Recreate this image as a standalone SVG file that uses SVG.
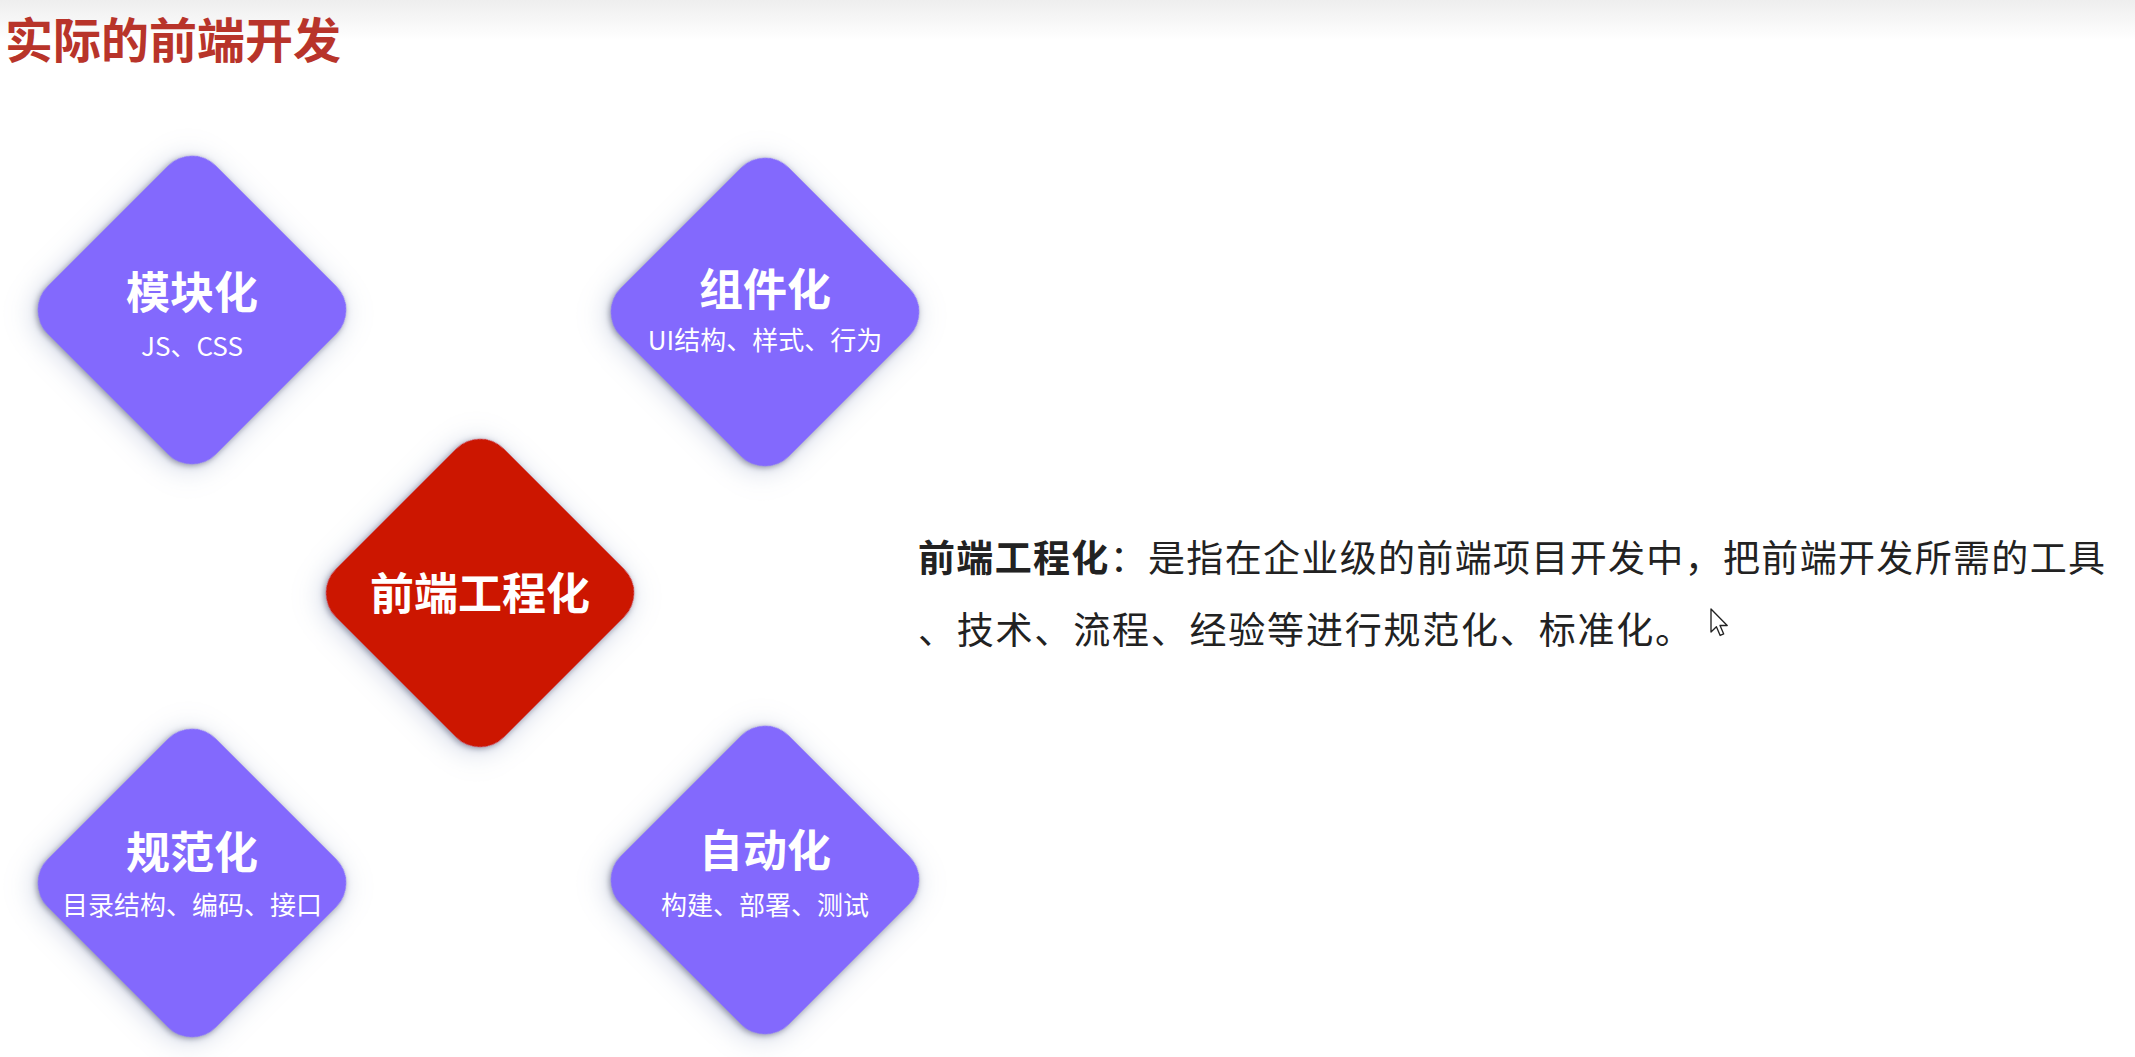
<svg xmlns="http://www.w3.org/2000/svg" width="2135" height="1057" viewBox="0 0 2135 1057">
  <defs>
    <linearGradient id="topband" x1="0" y1="0" x2="0" y2="1">
      <stop offset="0" stop-color="#eeeeee"/>
      <stop offset="1" stop-color="#ffffff"/>
    </linearGradient>
    <filter id="sh" x="-40%" y="-40%" width="180%" height="180%">
      <feGaussianBlur in="SourceAlpha" stdDeviation="3" result="b1"/>
      <feOffset in="b1" dx="0" dy="2" result="o1"/>
      <feFlood flood-color="#66667a" flood-opacity="0.7" result="f1"/>
      <feComposite in="f1" in2="o1" operator="in" result="s1"/>
      <feGaussianBlur in="SourceAlpha" stdDeviation="14" result="b2"/>
      <feOffset in="b2" dx="0" dy="5" result="o2"/>
      <feFlood flood-color="#94a2c4" flood-opacity="0.45" result="f2"/>
      <feComposite in="f2" in2="o2" operator="in" result="s2"/>
      <feMerge>
        <feMergeNode in="s2"/>
        <feMergeNode in="s1"/>
        <feMergeNode in="SourceGraphic"/>
      </feMerge>
    </filter>
    <rect id="dia" x="-119" y="-119" width="238" height="238" rx="34" ry="34"/>
  </defs>
  <style>
    .cjk { font-family: "Noto Sans CJK SC", "Noto Sans", sans-serif; }
    .purple { fill: #8369fd; filter: url(#sh); }
    .red { fill: #cc1600; filter: url(#sh); }
    .ttl { font-family: "Noto Sans CJK SC", "Noto Sans", sans-serif; font-size: 44px; font-weight: bold; fill: #ffffff; text-anchor: middle; }
    .sub { font-family: "Noto Sans CJK SC", "Noto Sans", sans-serif; font-size: 26px; fill: #ffffff; text-anchor: middle; }
    .para { font-family: "Noto Sans CJK SC", "Noto Sans", sans-serif; font-size: 37px; fill: #222222; }
  </style>

  <rect x="0" y="0" width="2135" height="1057" fill="#ffffff"/>
  <rect x="0" y="0" width="2135" height="40" fill="url(#topband)"/>

  <text x="5" y="58" class="cjk" font-size="48" font-weight="bold" fill="#b8342a">实际的前端开发</text>

  <g id="connectors"/>

  <g id="node-modular">
    <use href="#dia" class="purple" transform="translate(192,310) rotate(45)"/>
    <text x="192" y="309" class="ttl">模块化</text>
    <text x="192" y="356" class="sub">JS、CSS</text>
  </g>

  <g id="node-component">
    <use href="#dia" class="purple" transform="translate(765,312) rotate(45)"/>
    <text x="765" y="306" class="ttl">组件化</text>
    <text x="765" y="350" class="sub">UI结构、样式、行为</text>
  </g>

  <g id="node-engineering">
    <use href="#dia" class="red" transform="translate(480,593) rotate(45)"/>
    <text x="480" y="610" class="ttl">前端工程化</text>
  </g>

  <g id="node-standard">
    <use href="#dia" class="purple" transform="translate(192,883) rotate(45)"/>
    <text x="192" y="869" class="ttl">规范化</text>
    <text x="192" y="915" class="sub">目录结构、编码、接口</text>
  </g>

  <g id="node-automation">
    <use href="#dia" class="purple" transform="translate(765,880) rotate(45)"/>
    <text x="765" y="867" class="ttl">自动化</text>
    <text x="765" y="915" class="sub">构建、部署、测试</text>
  </g>

  <g id="description">
    <text x="918" y="572" class="para" textLength="1187" lengthAdjust="spacing"><tspan font-weight="bold">前端工程化</tspan>：是指在企业级的前端项目开发中，把前端开发所需的工具</text>
    <text x="918" y="644" class="para" textLength="774" lengthAdjust="spacing">、技术、流程、经验等进行规范化、标准化。</text>
  </g>

  <path d="M0,0 L0,17 L4,13.2 L6.8,19.6 L9.4,18.5 L6.7,12.2 L12,12.2 Z" transform="translate(1711,609) scale(1.35)" fill="#ffffff" stroke="#222222" stroke-width="1" stroke-linejoin="round"/>
</svg>
